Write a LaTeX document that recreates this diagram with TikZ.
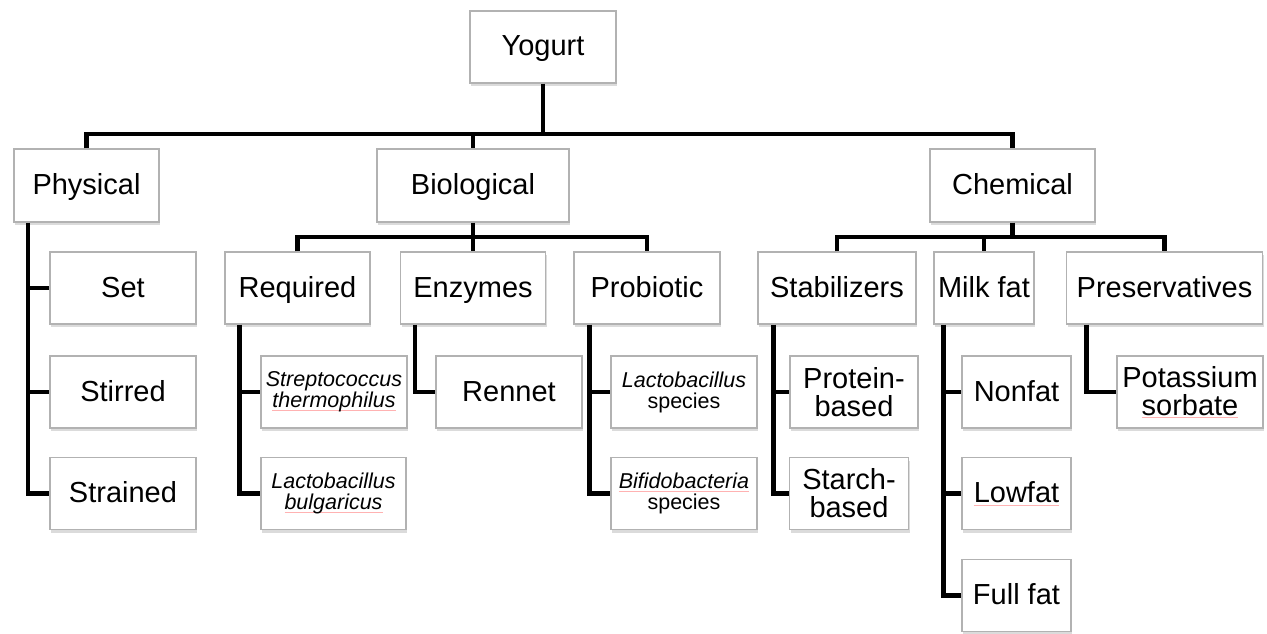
\documentclass[tikz,border=0pt]{standalone}
\usepackage{fontspec}
\setmainfont{Liberation Sans}
\usetikzlibrary{shadows}
\newcommand\bigf{\fontsize{29}{28}\selectfont}
\newcommand\smallf{\fontsize{21.5}{21}\selectfont}
\newcommand\spl[1]{\leavevmode\setbox0\hbox{#1}\rlap{\textcolor{red!30}{\rule[-3pt]{\wd0}{0.7pt}}}\box0}
\begin{document}
\begin{tikzpicture}[x=1pt,y=-1pt,
  box/.style={draw=gray!60, line width=1.3pt, fill=white, inner sep=0pt, align=center, font=\bigf,
    minimum height=72pt,
    drop shadow={shadow xshift=1pt, shadow yshift=-3pt, fill=gray!40, opacity=0.7}},
  one/.style={box, text height=21pt, text depth=3pt},
  sbox/.style={box, font=\smallf},
  conn/.style={line width=4.5pt, line join=miter}]
\useasboundingbox (0,0) rectangle (1267,634);

% level 0
\node[one,minimum width=146pt] (yog) at (543,47) {Yogurt};
% level 1
\node[one,minimum width=145pt,minimum height=73pt] (phys) at (86.5,185.5) {Physical};
\node[one,minimum width=192pt,minimum height=73pt] (bio) at (473,185.5) {Biological};
\node[one,minimum width=165pt,minimum height=73pt] (chem) at (1012.5,185.5) {Chemical};
% level 2
\node[one,minimum width=146pt] (set) at (123,288) {Set};
\node[one,minimum width=146pt] (stirred) at (123,392) {Stirred};
\node[one,minimum width=146pt] (strained) at (123,493.5) {Strained};
\node[one,minimum width=145pt] (req) at (297.5,288) {Required};
\node[one,minimum width=145pt] (enz) at (473,288) {Enzymes};
\node[one,minimum width=146pt] (prob) at (647,288) {Probiotic};
\node[one,minimum width=158pt] (stab) at (837,288) {Stabilizers};
\node[one,minimum width=100pt] (milk) at (984,288) {Milk fat};
\node[one,minimum width=196pt] (pres) at (1164.5,288) {Preservatives};
% level 3
\node[sbox,minimum width=146pt] (strep) at (334,392) {\textit{Streptococcus}\\\textit{\spl{thermophilus}}};
\node[sbox,minimum width=145pt] (lbul) at (333.5,493.5) {\textit{Lactobacillus}\\\textit{\spl{bulgaricus}}};
\node[one,minimum width=146pt] (rennet) at (509,392) {Rennet};
\node[sbox,minimum width=146pt] (lspec) at (684,392) {\textit{Lactobacillus}\\species};
\node[sbox,minimum width=146pt] (bifido) at (684,493.5) {\textit{\spl{Bifidobacteria}}\\species};
\node[box,minimum width=128pt] (prot) at (854,392) {Protein-\\based};
\node[box,minimum width=119pt] (starch) at (849,493.5) {Starch-\\based};
\node[one,minimum width=109pt] (nonfat) at (1016.5,392) {Nonfat};
\node[one,minimum width=109pt] (lowfat) at (1016.5,493.5) {\spl{Lowfat}};
\node[one,minimum width=109pt] (full) at (1016.5,595.5) {Full fat};
\node[box,minimum width=146pt] (potas) at (1190,392) {Potassium\\\spl{sorbate}};

% top-level connectors
\coordinate (b1) at (yog.south |- 0,134);
\draw[conn] (yog.south) -- (b1);
\draw[conn] (phys.north) |- (b1) -| (chem.north);
\draw[conn] (b1) -| (bio.north);

% biological
\coordinate (b2) at (bio.south |- 0,237);
\draw[conn] (bio.south) -- (enz.north);
\draw[conn] (req.north) |- (b2) -| (prob.north);

% chemical
\coordinate (b3) at (chem.south |- 0,237);
\draw[conn] (chem.south) -- (b3);
\draw[conn] (stab.north) |- (b3) -| (pres.north);
\draw[conn] (milk.north |- b3) -- (milk.north);

% side branches
\coordinate (pv) at ([xshift=14.6pt]phys.south west);
\draw[conn] (pv) |- (strained.west);
\draw[conn] (pv |- set.west) -- (set.west);
\draw[conn] (pv |- stirred.west) -- (stirred.west);

\coordinate (rv) at ([xshift=15pt]req.south west);
\draw[conn] (rv) |- (lbul.west);
\draw[conn] (rv |- strep.west) -- (strep.west);

\coordinate (ev) at ([xshift=15pt]enz.south west);
\draw[conn] (ev) |- (rennet.west);

\coordinate (qv) at ([xshift=16pt]prob.south west);
\draw[conn] (qv) |- (bifido.west);
\draw[conn] (qv |- lspec.west) -- (lspec.west);

\coordinate (sv) at ([xshift=16pt]stab.south west);
\draw[conn] (sv) |- (starch.west);
\draw[conn] (sv |- prot.west) -- (prot.west);

\coordinate (mv) at ([xshift=10pt]milk.south west);
\draw[conn] (mv) |- (full.west);
\draw[conn] (mv |- nonfat.west) -- (nonfat.west);
\draw[conn] (mv |- lowfat.west) -- (lowfat.west);

\coordinate (xv) at ([xshift=20.5pt]pres.south west);
\draw[conn] (xv) |- (potas.west);
\end{tikzpicture}
\end{document}
